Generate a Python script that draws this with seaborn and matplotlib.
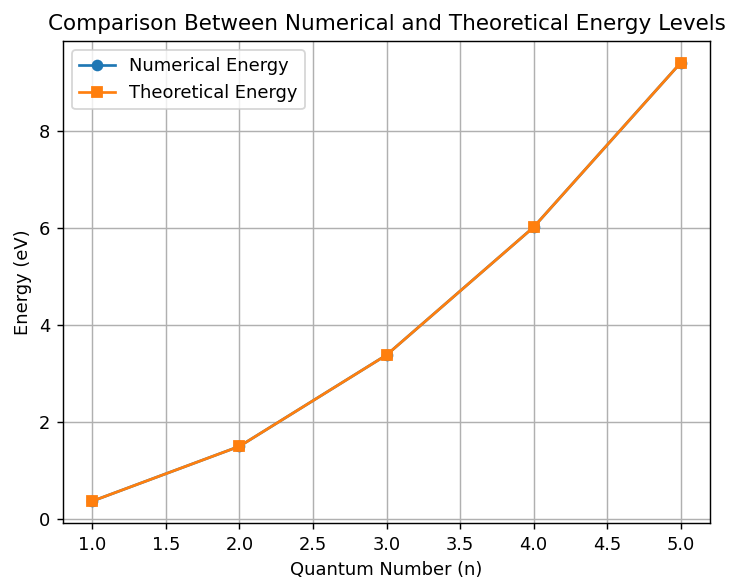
import matplotlib
matplotlib.use("Agg")
import matplotlib.pyplot as plt
import seaborn as sns
import pandas as pd

n_values = [1, 2, 3, 4, 5]
numerical_energy = [0.376, 1.504, 3.384, 6.016, 9.40]
theoretical_energy = [0.376, 1.504, 3.384, 6.016, 9.40]

DPI = 129
fig = plt.figure(figsize=(729 / DPI, 580 / DPI), dpi=DPI)
ax = fig.add_axes([63/729, 1-523/580, (710-63)/729, (523-41)/580])

df_num = pd.DataFrame({"n": n_values, "E": numerical_energy})
df_th = pd.DataFrame({"n": n_values, "E": theoretical_energy})

sns.lineplot(data=df_num, x="n", y="E", marker="o", markersize=6.5, color="#1f77b4",
             label="Numerical Energy", ax=ax, markeredgewidth=0)
sns.lineplot(data=df_th, x="n", y="E", marker="s", markersize=6, color="#ff7f0e",
             label="Theoretical Energy", ax=ax, markeredgewidth=1,
             markeredgecolor="#ff7f0e")

ax.set_title("Comparison Between Numerical and Theoretical Energy Levels")
ax.set_xlabel("Quantum Number (n)")
ax.set_ylabel("Energy (eV)")
ax.grid(True)
ax.legend(loc="upper left")

fig.savefig("out.png", dpi=DPI)
